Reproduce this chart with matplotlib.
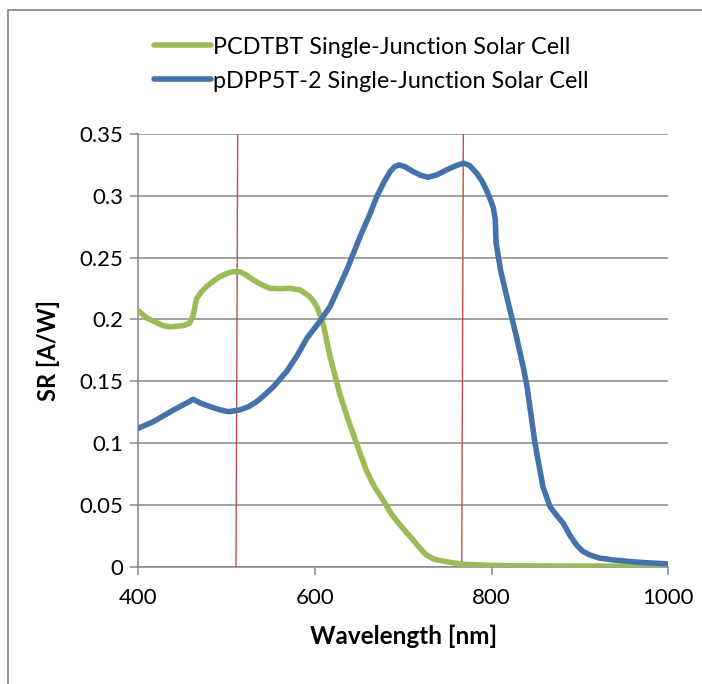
import numpy as np
import matplotlib.pyplot as plt
from matplotlib.patches import Rectangle

plt.rcParams['font.family'] = ['Lato', 'DejaVu Sans']

# PCDTBT single-junction spectral response
wl_pcdtbt = [400, 410, 419, 428, 436, 451, 458, 462, 466, 471, 477, 485, 492, 500, 507,
             515, 522, 530, 540, 549, 560, 572, 583, 589, 594, 598, 602, 606, 610, 617,
             628, 637, 647, 658, 667, 677, 686, 696, 711, 720, 726, 735, 749, 766, 800,
             850, 900, 950, 1000]
sr_pcdtbt = [0.207, 0.201, 0.198, 0.195, 0.194, 0.195, 0.197, 0.203, 0.217, 0.222, 0.2265,
             0.231, 0.2346, 0.237, 0.2387, 0.2385, 0.236, 0.232, 0.228, 0.2252, 0.2248,
             0.2252, 0.2239, 0.221, 0.2184, 0.215, 0.2104, 0.203, 0.194, 0.170, 0.140, 0.12,
             0.0998, 0.078, 0.065, 0.054, 0.043, 0.034, 0.0216, 0.014, 0.0095, 0.006, 0.004,
             0.002, 0.001, 0.0006, 0.0005, 0.0004, 0.0003]

# pDPP5T-2 single-junction spectral response
wl_pdpp = [400, 417, 440, 455, 462, 470, 481, 492, 502, 515, 525, 534, 543, 553, 568, 580,
           591, 605, 617, 636, 651, 662, 670, 678, 685, 690, 695, 702, 711, 720, 728, 738,
           749, 760, 768, 775, 783, 789, 794, 799, 802, 804, 805, 810, 817, 828, 836, 840,
           849, 858, 866, 873, 881, 888, 896, 903, 911, 922, 938, 968, 1000]
sr_pdpp = [0.112, 0.1173, 0.1268, 0.1325, 0.1354, 0.1325, 0.1295, 0.127, 0.1254, 0.1268,
           0.1295, 0.1335, 0.139, 0.1456, 0.158, 0.171, 0.185, 0.198, 0.2104, 0.240, 0.267,
           0.285, 0.2994, 0.311, 0.3196, 0.3235, 0.325, 0.3235, 0.3196, 0.3165, 0.315, 0.317,
           0.321, 0.3245, 0.3264, 0.3245, 0.3183, 0.312, 0.3048, 0.296, 0.290, 0.2805, 0.2617,
           0.24, 0.2185, 0.186, 0.1605, 0.1456, 0.0998, 0.0647, 0.0485, 0.042, 0.0351, 0.026,
           0.0176, 0.0125, 0.0095, 0.007, 0.0054, 0.0035, 0.0022]

# red marker lines (top, bottom wavelength)
markers = [(512.5, 510.6), (767.9, 766.1)]

green = '#9BBB59'
blue = '#4472AA'
red = '#C0504D'
grid = '#878787'

fig = plt.figure(figsize=(7.02, 6.84), dpi=100)
fig.patches.append(Rectangle((8/702, -0.1), 1.2, 1 - 10/684 + 0.1, transform=fig.transFigure,
                             fill=False, edgecolor='#8c8c8c', linewidth=1.3))
ax = fig.add_axes([138.3/702, 1 - 566.7/684, (668.4-138.3)/702, (566.7-134)/684])

for top, bot in markers:
    ax.plot([bot, top], [0, 0.35], color=red, linewidth=1.0, zorder=3)

l1, = ax.plot(wl_pcdtbt, sr_pcdtbt, color=green, linewidth=4.0, solid_joinstyle='round',
              solid_capstyle='round', zorder=4, label='PCDTBT Single-Junction Solar Cell')
l2, = ax.plot(wl_pdpp, sr_pdpp, color=blue, linewidth=4.0, solid_joinstyle='round',
              solid_capstyle='round', zorder=5, label='pDPP5T-2 Single-Junction Solar Cell')

ax.set_xlim(400, 1000)
ax.set_ylim(0, 0.35)
ax.set_xticks([400, 600, 800, 1000])
ax.set_yticks(np.arange(0, 0.351, 0.05))
ax.set_yticklabels(['0', '0.05', '0.1', '0.15', '0.2', '0.25', '0.3', '0.35'])
ax.grid(axis='y', color=grid, linewidth=1.1)
ax.set_axisbelow(True)
for s in ['top', 'right']:
    ax.spines[s].set_visible(False)
for s in ['left', 'bottom']:
    ax.spines[s].set_color(grid)
    ax.spines[s].set_linewidth(1.1)
ax.tick_params(colors=grid, length=6, width=1.1, labelcolor='black', labelsize=16, pad=5)
ax.tick_params(axis='x', pad=9)

ax.set_xlabel('Wavelength [nm]', fontsize=17.5, fontweight='bold', labelpad=12)
ax.set_ylabel('SR [A/W]', fontsize=17, fontweight='bold', labelpad=14)

fig.legend(handles=[l1, l2], loc='upper left', bbox_to_anchor=(142/702, 1 - 25/684),
           frameon=False, fontsize=16.8, handlelength=2.45, handletextpad=0.1,
           labelspacing=0.55, borderpad=0)

fig.savefig('out.png', dpi=100)
